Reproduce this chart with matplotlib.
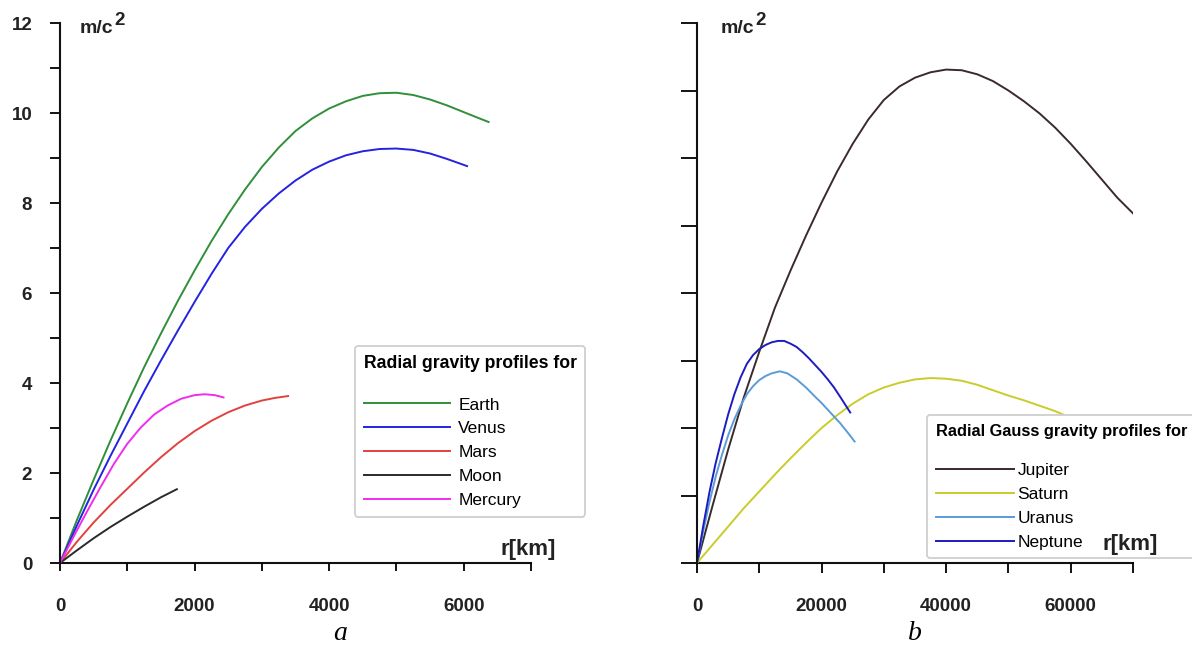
import numpy as np
import matplotlib.pyplot as plt

plt.rcParams['font.family'] = ['Liberation Sans', 'DejaVu Sans']

# ---- panel a: terrestrial bodies, r in km, g in m/s^2
earth_r = [0, 250, 500, 750, 1000, 1250, 1500, 1750, 2000, 2250, 2500, 2750, 3000, 3250,
           3500, 3750, 4000, 4250, 4500, 4750, 5000, 5250, 5500, 5750, 6000, 6200, 6370]
earth_g = [0, 0.95, 1.85, 2.72, 3.55, 4.35, 5.1, 5.82, 6.5, 7.15, 7.75, 8.3, 8.8, 9.23,
           9.6, 9.88, 10.1, 10.26, 10.38, 10.44, 10.45, 10.4, 10.3, 10.17, 10.02, 9.9, 9.8]

venus_r = [0, 250, 500, 750, 1000, 1250, 1500, 1750, 2000, 2250, 2500, 2750, 3000, 3250,
           3500, 3750, 4000, 4250, 4500, 4750, 5000, 5250, 5500, 5750, 6050]
venus_g = [0, 0.83, 1.63, 2.38, 3.1, 3.82, 4.5, 5.16, 5.8, 6.42, 7.0, 7.47, 7.87, 8.21,
           8.5, 8.74, 8.92, 9.06, 9.15, 9.2, 9.21, 9.18, 9.1, 8.98, 8.82]

mars_r = [0, 250, 500, 750, 1000, 1250, 1500, 1750, 2000, 2250, 2500, 2750, 3000, 3200, 3390]
mars_g = [0, 0.47, 0.9, 1.29, 1.65, 2.01, 2.35, 2.66, 2.93, 3.16, 3.35, 3.5, 3.61, 3.67, 3.71]

moon_r = [0, 250, 500, 750, 1000, 1250, 1500, 1737]
moon_g = [0, 0.28, 0.55, 0.8, 1.03, 1.25, 1.46, 1.64]

mercury_r = [0, 200, 400, 600, 800, 1000, 1200, 1400, 1600, 1800, 2000, 2150, 2300, 2430]
mercury_g = [0, 0.58, 1.14, 1.68, 2.2, 2.65, 3.01, 3.3, 3.5, 3.65, 3.73, 3.75, 3.73, 3.68]

# ---- panel b: giant planets (axis has no value labels)
jupiter_r = [0, 2500, 5000, 7500, 10000, 12500, 15000, 17500, 20000, 22500, 25000, 27500,
             30000, 32500, 35000, 37500, 40000, 42500, 45000, 47500, 50000, 52500, 55000,
             57500, 60000, 62500, 65000, 67500, 70000]
jupiter_g = [0, 0.85, 1.68, 2.45, 3.13, 3.78, 4.33, 4.85, 5.34, 5.8, 6.21, 6.57,
             6.86, 7.06, 7.19, 7.27, 7.31, 7.3, 7.24, 7.14, 7.0, 6.84, 6.66,
             6.45, 6.21, 5.95, 5.68, 5.41, 5.18]

saturn_r = [0, 2500, 5000, 7500, 10000, 12500, 15000, 17500, 20000, 22500, 25000, 27500,
            30000, 32500, 35000, 37500, 40000, 42500, 45000, 47500, 50000, 52500, 55000,
            57500, 60000, 62000]
saturn_g = [0, 0.27, 0.54, 0.81, 1.06, 1.31, 1.55, 1.78, 2.0, 2.19, 2.36, 2.5,
            2.6, 2.67, 2.72, 2.74, 2.73, 2.7, 2.64, 2.56, 2.48, 2.41, 2.33,
            2.25, 2.15, 2.05]

uranus_r = [0, 1000, 2000, 3000, 4000, 5000, 6000, 7000, 8000, 9000, 10000, 11000, 12000,
            13300, 14500, 16000, 17500, 19000, 20000, 21500, 23000, 24300, 25300]
uranus_g = [0, 0.47, 0.9, 1.28, 1.6, 1.89, 2.13, 2.33, 2.5, 2.62, 2.71, 2.77, 2.81,
            2.84, 2.81, 2.72, 2.6, 2.46, 2.37, 2.22, 2.07, 1.92, 1.8]

neptune_r = [0, 1000, 2000, 3000, 4000, 5000, 6000, 7000, 8000, 9000, 10000, 11000, 12000,
             13000, 14000, 15000, 16000, 17000, 18000, 19000, 20000, 21000, 22000, 23000, 24600]
neptune_g = [0, 0.55, 1.05, 1.48, 1.85, 2.2, 2.5, 2.75, 2.95, 3.08, 3.17, 3.23, 3.27,
             3.29, 3.29, 3.25, 3.2, 3.12, 3.03, 2.93, 2.83, 2.72, 2.6, 2.46, 2.23]

W, H = 1192, 647
fig = plt.figure(figsize=(W / 100, H / 100), dpi=100)


def fx(x):
    return x / W


def fy(y):
    return 1 - y / H


ax1 = fig.add_axes([fx(60), fy(563), 471 / W, 540 / H])
ax2 = fig.add_axes([fx(697), fy(563), 436 / W, 540 / H])

lw = 1.4
ax1.plot(earth_r, earth_g, color='#2f8f3a', lw=lw, label='Earth')
ax1.plot(venus_r, venus_g, color='#2323e0', lw=lw, label='Venus')
ax1.plot(mars_r, mars_g, color='#e2413f', lw=lw, label='Mars')
ax1.plot(moon_r, moon_g, color='#2a2a2a', lw=lw, label='Moon')
ax1.plot(mercury_r, mercury_g, color='#f02cf0', lw=lw, label='Mercury')

ax2.plot(jupiter_r, jupiter_g, color='#3a2a2c', lw=lw, label='Jupiter')
ax2.plot(saturn_r, saturn_g, color='#c9cc2a', lw=lw, label='Saturn')
ax2.plot(uranus_r, uranus_g, color='#5b9bd8', lw=lw, label='Uranus')
ax2.plot(neptune_r, neptune_g, color='#1c1cc0', lw=lw, label='Neptune')

for ax in (ax1, ax2):
    for s in ('top', 'right'):
        ax.spines[s].set_visible(False)
    for s in ('left', 'bottom'):
        ax.spines[s].set_linewidth(1.5)
        ax.spines[s].set_color('#111111')
    ax.spines['bottom'].set_zorder(0.5)

ax1.set_xlim(0, 7000)
ax1.set_ylim(0, 12)
ax1.set_xticks(range(0, 7001, 1000))
ax1.set_xticklabels([str(v) if v % 2000 == 0 else '' for v in range(0, 7001, 1000)])
ax1.set_yticks(range(0, 13))
ax1.set_yticklabels([str(v) if v % 2 == 0 else '' for v in range(0, 13)])
ax1.tick_params(axis='y', length=7, width=1.3, pad=13, labelsize=13.5)
ax1.tick_params(axis='x', length=6, width=1.3, pad=19, labelsize=13.5)

ax2.set_xlim(0, 70000)
ax2.set_ylim(0, 8)
ax2.set_xticks(range(0, 70001, 10000))
ax2.set_xticklabels([str(v) if v % 20000 == 0 else '' for v in range(0, 70001, 10000)])
ax2.set_yticks(range(0, 9))
ax2.set_yticklabels([])
ax2.tick_params(axis='y', length=11.5, width=1.3)
ax2.tick_params(axis='x', length=7, width=1.3, pad=18, labelsize=13.5)

for ax in (ax1, ax2):
    for lab in ax.get_xticklabels() + ax.get_yticklabels():
        lab.set_fontweight('bold')
        lab.set_color('#222222')

leg1 = ax1.legend(loc='upper left', bbox_to_anchor=(fx(355), fy(346)),
                  bbox_transform=fig.transFigure, borderaxespad=0,
                  title='Radial gravity profiles for\n ', alignment='left',
                  fontsize=12.5, title_fontproperties={'weight': 'bold', 'size': 12.7},
                  handlelength=5.0, handletextpad=0.45, labelspacing=0.5,
                  fancybox=True, framealpha=1, edgecolor='#cfcfcf',
                  borderpad=0.5)
leg1.get_frame().set_linewidth(1.3)
leg1.get_title().set_linespacing(1.0)

leg2 = ax2.legend(loc='upper left', bbox_to_anchor=(fx(927), fy(415)),
                  bbox_transform=fig.transFigure, borderaxespad=0,
                  title='Radial Gauss gravity profiles for\n ', alignment='left',
                  fontsize=12.5, title_fontproperties={'weight': 'bold', 'size': 11.8},
                  handlelength=4.5, handletextpad=0.2, labelspacing=0.5,
                  fancybox=True, framealpha=1, edgecolor='#cfcfcf',
                  borderpad=0.5)
leg2.get_frame().set_linewidth(1.3)
leg2.get_title().set_linespacing(1.05)

# axis unit labels
for x0 in (80, 721):
    fig.text(fx(x0), fy(33), 'm/c', fontsize=14, fontweight='bold', color='#222222',
             ha='left', va='baseline')
    fig.text(fx(x0 + 34), fy(25), '2', fontsize=13.5, fontweight='bold', color='#222222',
             ha='left', va='baseline')

fig.text(fx(500), fy(555), 'r[km]', fontsize=16, fontweight='bold', color='#222222',
         ha='left', va='baseline')
fig.text(fx(1103), fy(550), 'r[km]', fontsize=16, fontweight='bold', color='#222222',
         ha='left', va='baseline', zorder=10,
         bbox=dict(facecolor='white', edgecolor='none', pad=1))

fig.text(fx(340), fy(640), 'a', fontsize=20, style='italic', family='Liberation Serif',
         ha='center', va='baseline')
fig.text(fx(915), fy(640), 'b', fontsize=20, style='italic', family='Liberation Serif',
         ha='center', va='baseline')

fig.savefig('out.png', dpi=100, facecolor='white')
